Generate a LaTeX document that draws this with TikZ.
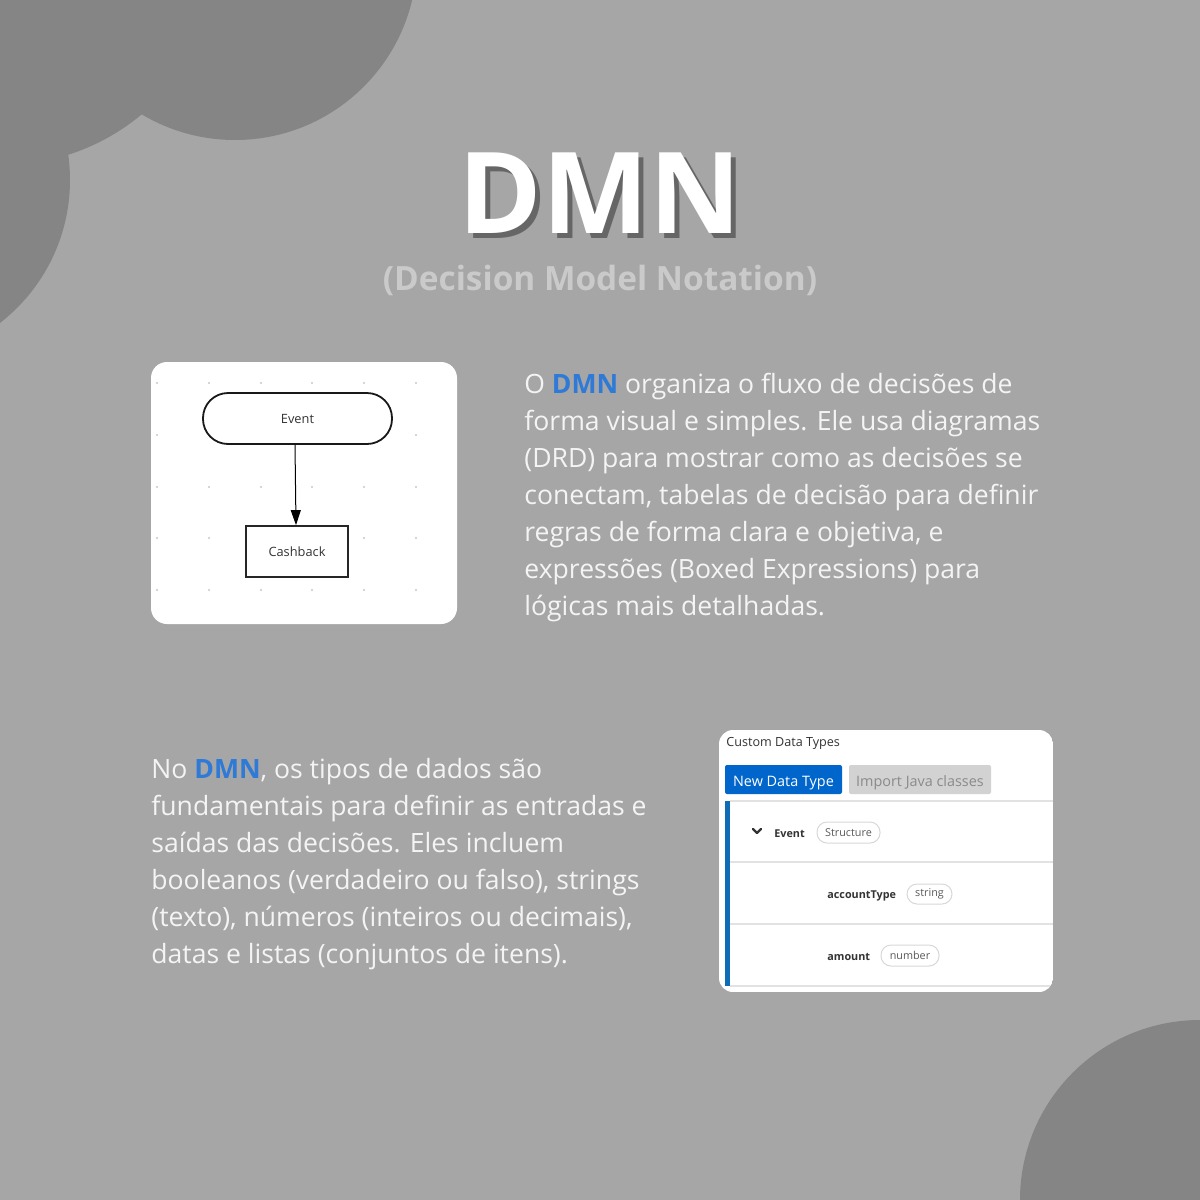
\documentclass[tikz,border=0pt]{standalone}
\usepackage{fontspec}
\setmainfont{Open Sans}
\usetikzlibrary{arrows.meta}
\definecolor{bg}{HTML}{A6A6A6}
\definecolor{blob}{HTML}{858585}
\definecolor{sub}{HTML}{CACACA}
\definecolor{shadow}{HTML}{666666}
\definecolor{txt}{HTML}{F4F4F4}
\definecolor{dmnblue}{HTML}{2E7AD6}
\definecolor{uiblue}{HTML}{0066CC}
\definecolor{barblue}{HTML}{0F6DB8}
\definecolor{uigray}{HTML}{D2D2D2}
\definecolor{uigraytxt}{HTML}{8A8A8A}
\definecolor{rule}{HTML}{E2E2E2}
\definecolor{dotc}{HTML}{C8C8C8}
\definecolor{dark}{HTML}{333333}
\definecolor{pillline}{HTML}{D8D8D8}
\tikzset{
  body/.style={anchor=base west, inner sep=0pt, text=txt, font=\fontsize{13.28}{18}\selectfont},
  card/.style={fill=white, rounded corners=8pt},
  uilabel/.style={anchor=base west, inner sep=0pt, text=dark, font=\bfseries\fontsize{5.4}{7}\selectfont},
  pill/.style={draw=pillline, line width=0.5pt, fill=white, rounded corners=5pt, inner sep=0pt, text=black!65, font=\fontsize{5.4}{7}\selectfont},
  hrule/.style={draw=rule, line width=0.6pt},
  dot/.style={fill=dotc},
}
\newcommand{\dmn}{\textcolor{dmnblue}{\textbf{DMN}}}
\begin{document}
\begin{tikzpicture}[x=0.5pt,y=-0.5pt]
\useasboundingbox (0,0) rectangle (1200,1200);
\fill[bg] (0,0) rectangle (1200,1200);
\begin{scope}
  \clip (0,0) rectangle (1200,1200);
  \fill[blob] (235,-42) circle[radius=91pt];
  \fill[blob] (-111,180) circle[radius=90.5pt];
  \fill[blob] (2,-53) circle[radius=109pt];
  \fill[blob] (1200,1200) circle[radius=90pt];
\end{scope}

% Title
\node[anchor=base, inner sep=0pt, text=shadow, font=\bfseries\fontsize{56.5}{60}\selectfont] (titleshadow) at (605,238) {DMN};
\node[anchor=base, inner sep=0pt, text=white, font=\bfseries\fontsize{56.5}{60}\selectfont] (title) at (600,233) {DMN};
\node[anchor=base, inner sep=0pt, text=sub, font=\bfseries\fontsize{16.7}{20}\selectfont] (subtitle) at (600,290) {(Decision Model Notation)};

% Left card (DRD)
\fill[card] (151,362) rectangle (457,624);
\foreach \xx in {157,209,261,312,364,416}{
  \foreach \yy in {383,435,487,538,590}{
    \fill[dot] (\xx,\yy) circle[radius=0.6pt];
  }
}
\node[draw=black!90, line width=0.9pt, fill=white, rounded corners=12.5pt, minimum width=94.5pt, minimum height=25.5pt, inner sep=0pt, text=dark, font=\fontsize{6.4}{8}\selectfont] (event) at (297.5,418.5) {Event};
\node[draw=black!85, line width=0.9pt, fill=white, minimum width=51pt, minimum height=25.5pt, inner sep=0pt, text=dark, font=\fontsize{6.4}{8}\selectfont] (cash) at (297,551.5) {Cashback};
\draw[line width=0.5pt, -{Triangle[length=7.5pt,width=5pt]}] (event.south -| 295,0) -- (cash.north -| 296,0);

% Right paragraph
\node[body] (p1) at (524,393) {O \dmn{} organiza o fluxo de decisões de};
\node[body] (p2) at (524,430) {forma visual e simples. Ele usa diagramas};
\node[body] (p3) at (524,467) {(DRD) para mostrar como as decisões se};
\node[body] (p4) at (524,504) {conectam, tabelas de decisão para definir};
\node[body] (p5) at (524,541) {regras de forma clara e objetiva, e};
\node[body] (p6) at (524,578) {expressões (Boxed Expressions) para};
\node[body] (p7) at (524,615) {lógicas mais detalhadas.};

% Left paragraph
\node[body] (q1) at (151,778) {No \dmn, os tipos de dados são};
\node[body] (q2) at (151,815) {fundamentais para definir as entradas e};
\node[body] (q3) at (151,852) {saídas das decisões. Eles incluem};
\node[body] (q4) at (151,889) {booleanos (verdadeiro ou falso), strings};
\node[body] (q5) at (151,926) {(texto), números (inteiros ou decimais),};
\node[body] (q6) at (151,963) {datas e listas (conjuntos de itens).};

% Right card (Custom Data Types)
\begin{scope}
  \clip[rounded corners=7pt] (719,730) rectangle (1053,992);
  \fill[white] (719,730) rectangle (1053,992);
  \node[anchor=base west, inner sep=0pt, text=dark, font=\fontsize{6.3}{8}\selectfont] (cdt) at (726,746) {Custom Data Types};
  \fill[uiblue, rounded corners=1pt] (725,765) rectangle (842,794);
  \node[anchor=base, inner sep=0pt, text=white, font=\fontsize{7.2}{9}\selectfont] (newdt) at (783.5,786) {New Data Type};
  \fill[uigray, rounded corners=1pt] (849,765) rectangle (991,794);
  \node[anchor=base, inner sep=0pt, text=uigraytxt, font=\fontsize{7.2}{9}\selectfont] (importjc) at (920,786) {Import Java classes};
  \draw[hrule] (730,801) -- (1053,801);
  \draw[hrule] (730,862) -- (1053,862);
  \draw[hrule] (730,924) -- (1053,924);
  \draw[hrule] (730,986) -- (1053,986);
  \fill[barblue] (725,801) rectangle (730,986);
  \draw[line width=1.1pt, line cap=round, line join=round, dark] (753,829) -- (757,833) -- (761,829);
  \node[uilabel] (lev) at (774,837) {Event};
  \node[pill, minimum width=31.5pt, minimum height=10.5pt] (pstruct) at (848.5,832.5) {Structure};
  \node[uilabel] (lacc) at (827,898.5) {accountType};
  \node[pill, minimum width=22.5pt, minimum height=10pt] (pstring) at (929.5,894) {string};
  \node[uilabel] (lamt) at (827,960) {amount};
  \node[pill, minimum width=29pt, minimum height=10.5pt] (pnum) at (910,955.5) {number};
\end{scope}
\end{tikzpicture}
\end{document}
